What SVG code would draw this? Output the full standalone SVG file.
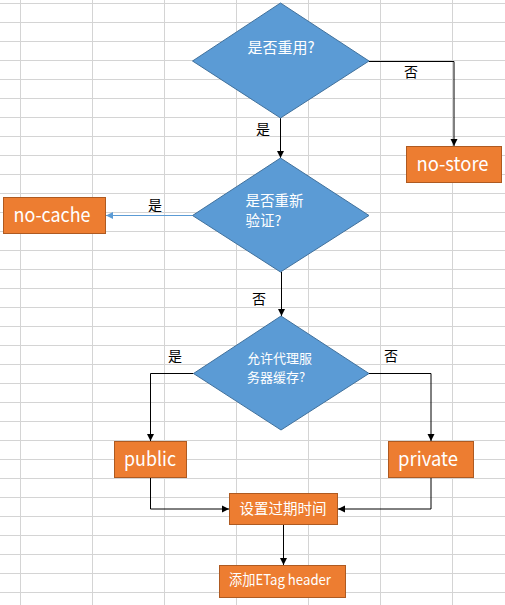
<svg xmlns="http://www.w3.org/2000/svg" width="505" height="605" viewBox="0 0 505 605">
  <style>
    .grid { stroke: #d4d4d4; stroke-width: 1; fill: none; }
    .dia { fill: #5b9bd5; stroke: #41719c; stroke-width: 1; }
    .box { fill: #ed7d31; stroke: #ae5a21; stroke-width: 1; }
    .t { font-family: "Noto Sans CJK SC", "Noto Sans", sans-serif; fill: #ffffff; }
    .big { font-size: 19.5px; text-anchor: middle; }
    .mid { font-size: 14.5px; }
    .lbl { font-family: "Noto Sans CJK SC", "Noto Sans", sans-serif; font-size: 14px; fill: #000000; text-anchor: middle; }
    .edge { fill: none; stroke: #000000; stroke-width: 1; }
    .edge-blue { fill: none; stroke: #5b9bd5; stroke-width: 1.2; }
  </style>
  <defs>
    <marker id="arr" markerUnits="userSpaceOnUse" markerWidth="8" markerHeight="8" refX="7" refY="4" orient="auto">
      <path d="M0,0.5 L7,4 L0,7.5 z" fill="#000000"/>
    </marker>
    <marker id="arrBlue" markerUnits="userSpaceOnUse" markerWidth="8" markerHeight="8" refX="7" refY="4" orient="auto">
      <path d="M0,0.5 L7,4 L0,7.5 z" fill="#5b9bd5"/>
    </marker>
  </defs>
  <rect x="0" y="0" width="505" height="605" fill="#ffffff"/>
  <g id="grid">
    <path class="grid" d="M20.5 0V605M92.5 0V605M164.5 0V605M236.5 0V605M308.5 0V605M380.5 0V605M452.5 0V605
      M0 3.5H505M0 22.5H505M0 41.5H505M0 60.5H505M0 79.5H505M0 98.5H505M0 117.5H505M0 136.5H505M0 155.5H505M0 174.5H505
      M0 193.5H505M0 212.5H505M0 231.5H505M0 250.5H505M0 269.5H505M0 288.5H505M0 307.5H505M0 326.5H505M0 345.5H505M0 364.5H505
      M0 383.5H505M0 402.5H505M0 421.5H505M0 440.5H505M0 459.5H505M0 478.5H505M0 497.5H505M0 516.5H505M0 535.5H505M0 554.5H505
      M0 573.5H505M0 592.5H505"/>
  </g>
  <g id="connectors">
    <path class="edge" d="M369 61.5H454V146" marker-end="url(#arr)"/>
    <text class="lbl" x="411" y="77">否</text>
    <path class="edge" d="M280.5 118V158" marker-end="url(#arr)"/>
    <text class="lbl" x="263" y="134">是</text>
    <path class="edge-blue" d="M192.5 215.5H106" marker-end="url(#arrBlue)"/>
    <text class="lbl" x="155" y="210">是</text>
    <path class="edge" d="M281.5 272V316" marker-end="url(#arr)"/>
    <text class="lbl" x="259" y="304">否</text>
    <path class="edge" d="M193.5 373.5H150.5V441" marker-end="url(#arr)"/>
    <text class="lbl" x="175" y="361">是</text>
    <path class="edge" d="M369 373.5H431V441" marker-end="url(#arr)"/>
    <text class="lbl" x="391" y="361">否</text>
    <path class="edge" d="M150.5 478V509H229" marker-end="url(#arr)"/>
    <path class="edge" d="M431 478V509H338" marker-end="url(#arr)"/>
    <path class="edge" d="M283.5 525V565" marker-end="url(#arr)"/>
  </g>
  <g id="reuse">
    <polygon class="dia" points="280.5,3 369,61 280.5,118 192.5,61"/>
    <text class="t" x="281" y="53" font-size="15" text-anchor="middle">是否重用?</text>
  </g>
  <g id="revalidate">
    <polygon class="dia" points="280.5,158 369,215.5 280.5,272 192.5,215.5"/>
    <text class="t" x="245.5" y="206" font-size="14.5">是否重新</text>
    <text class="t" x="245.5" y="226" font-size="14.5">验证?</text>
  </g>
  <g id="proxy">
    <polygon class="dia" points="281,316 369,373.5 281,430 193.5,373.5"/>
    <text class="t" x="247" y="363" font-size="13">允许代理服</text>
    <text class="t" x="247" y="382" font-size="13">务器缓存?</text>
  </g>
  <g id="no-store">
    <rect class="box" x="406.5" y="146.5" width="95" height="36"/>
    <text class="t big" x="452.5" y="171" textLength="72" lengthAdjust="spacingAndGlyphs">no-store</text>
  </g>
  <g id="no-cache">
    <rect class="box" x="3.5" y="197.5" width="102" height="36"/>
    <text class="t big" x="52" y="222" textLength="77" lengthAdjust="spacingAndGlyphs">no-cache</text>
  </g>
  <g id="public">
    <rect class="box" x="114.5" y="441.5" width="72" height="36"/>
    <text class="t big" x="150" y="466" textLength="52" lengthAdjust="spacingAndGlyphs">public</text>
  </g>
  <g id="private">
    <rect class="box" x="388.5" y="441.5" width="85" height="36"/>
    <text class="t big" x="428" y="466" textLength="60" lengthAdjust="spacingAndGlyphs">private</text>
  </g>
  <g id="expire">
    <rect class="box" x="229.5" y="493.5" width="108" height="31"/>
    <text class="t mid" x="283" y="513.5" text-anchor="middle">设置过期时间</text>
  </g>
  <g id="etag">
    <rect class="box" x="219.5" y="565.5" width="126" height="32"/>
    <text class="t mid" x="229" y="585" font-size="14" textLength="102" lengthAdjust="spacingAndGlyphs">添加ETag header</text>
  </g>
</svg>
